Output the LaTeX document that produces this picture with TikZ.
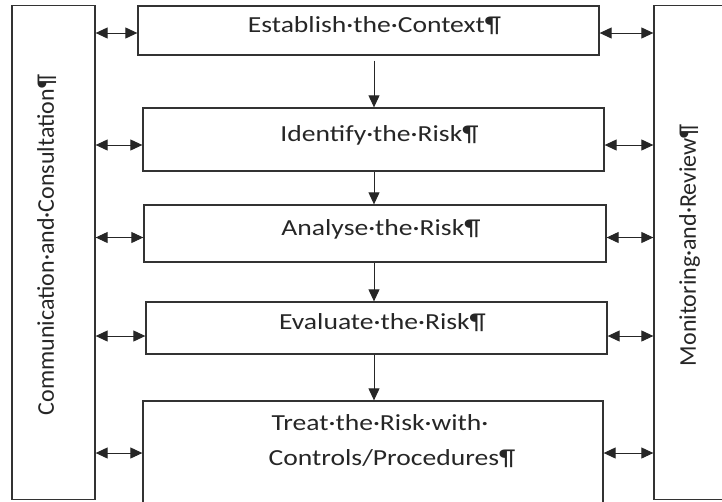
\documentclass[tikz,border=0pt]{standalone}
\usepackage{fontspec}
\setmainfont{Carlito}
\newfontfamily\stagefont[FakeStretch=1.2]{Carlito}
\usetikzlibrary{arrows.meta}

\begin{document}
\begin{tikzpicture}[x=1pt,y=-1pt,>={Triangle[length=12pt,width=11pt]},
  every node/.style={text=black!85},
  stagebox/.style={draw=black!80,line width=1.3pt,text depth=12pt,font=\stagefont\fontsize{23}{35}\selectfont,execute at begin node=\hspace*{12pt}},
  sidebox/.style={draw=black!80,line width=1.3pt,rotate=90,minimum width=494pt,minimum height=83pt,text depth=16pt,font=\fontsize{24}{30}\selectfont,execute at begin node=\hspace*{15pt}},
  flow/.style={line width=1pt,draw=black!85}]
\useasboundingbox (0,0) rectangle (722,501);
\clip (0,0) rectangle (722,501);
% side columns
\node[sidebox] (comm) at (53.5,252.5) {Communication·and·Consultation¶};
\node[sidebox] (monitor) at (695.5,252.5) {Monitoring·and·Review¶};
% process steps
\node[stagebox,minimum width=461pt,minimum height=49pt] (context) at (368.5,30.5) {Establish·the·Context¶};
\node[stagebox,minimum width=461pt,minimum height=63pt] (identify) at (373.5,139.5) {Identify·the·Risk¶};
\node[stagebox,minimum width=462pt,minimum height=57pt] (analyse) at (375,233.5) {Analyse·the·Risk¶};
\node[stagebox,minimum width=461pt,minimum height=52pt] (evaluate) at (376.5,328) {Evaluate·the·Risk¶};
\node[stagebox,minimum width=460pt,minimum height=110pt,align=center,text depth=31pt,execute at begin node={}] (treat) at (373,456) {\hspace*{2pt}Treat·the·Risk·with·\\\hspace*{26pt}Controls/Procedures¶};
% downward flow
\coordinate (spine) at (374,0);
\draw[flow,->,shorten <=5pt] (context.south -| spine) -- (identify.north -| spine);
\foreach \a/\b in {identify/analyse,analyse/evaluate,evaluate/treat}
  \draw[flow,->] (\a.south -| spine) -- (\b.north -| spine);
% links to the side columns
\foreach \n/\dy in {context/2.5,identify/5.5,analyse/4,evaluate/8,treat/-3}{
  \coordinate (in-\n) at ([yshift=-\dy pt]\n.west);
  \coordinate (out-\n) at ([yshift=-\dy pt]\n.east);
  \draw[flow,<->] (comm.south |- in-\n) -- (in-\n);
  \draw[flow,<->] (out-\n) -- (monitor.north |- out-\n);
}
\end{tikzpicture}
\end{document}
